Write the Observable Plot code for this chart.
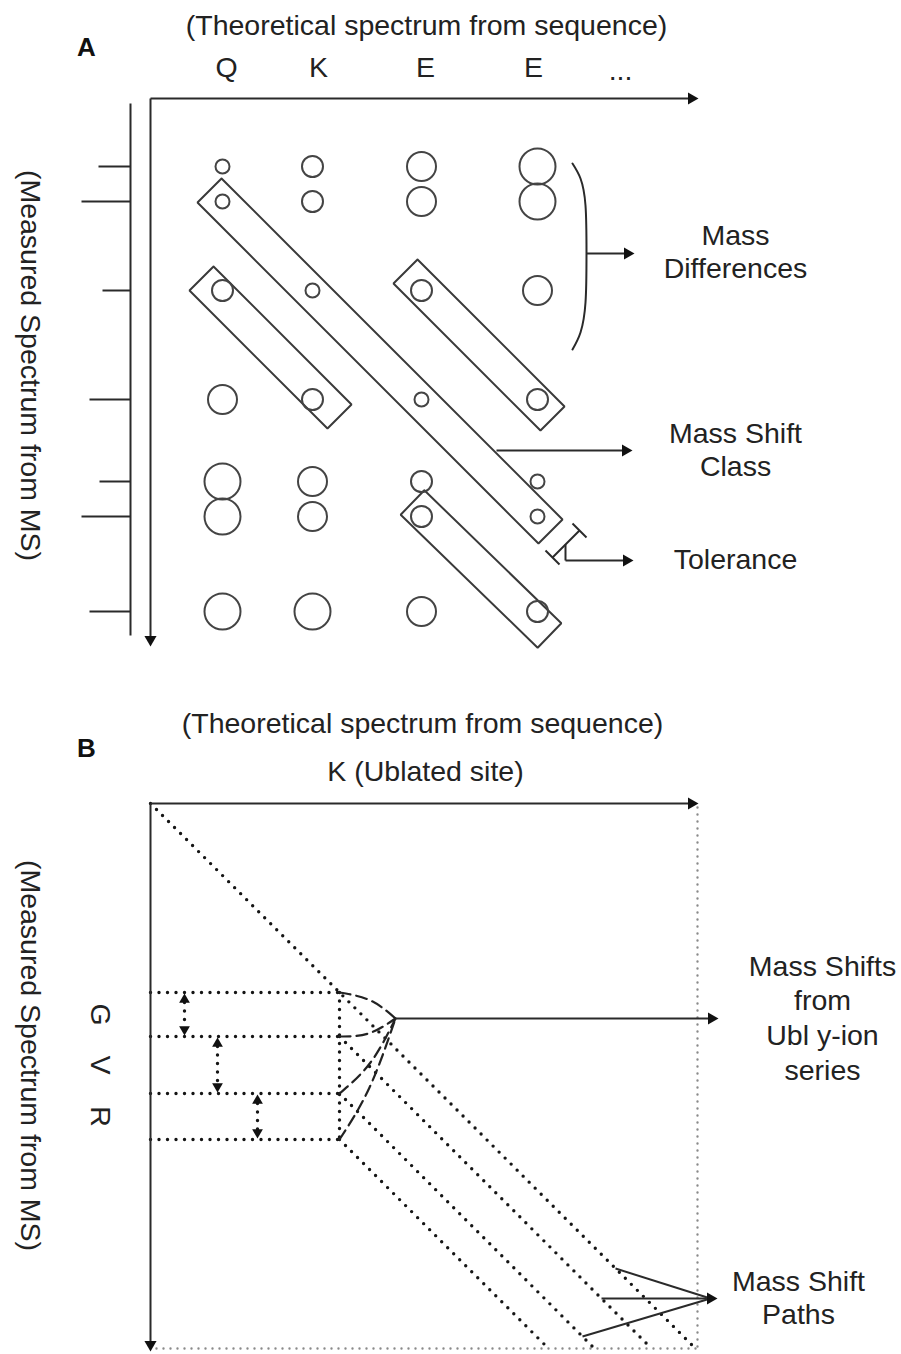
<!DOCTYPE html>
<html><head><meta charset="utf-8">
<script src="https://cdn.jsdelivr.net/npm/d3@7"></script>
<script src="https://cdn.jsdelivr.net/npm/@observablehq/plot@0.6"></script>
<style>body{margin:0;background:#fff} svg{display:block}</style>
</head><body><div id="chart"></div>
<script>
const W = 901, H = 1354;
const INK = "#2a2a2a";
const FONT = "'Liberation Sans', Arial, Helvetica, sans-serif";
const FS = 28.5;

// ---------- Panel A data ----------
const residuesA = ["Q", "K", "E", "E", "..."];
const residueLabelXA = [226, 318, 425, 533, 620];
const theoA = [222, 312, 421, 537];                    // theoretical peaks (x)
const measA = [166, 201, 290, 399, 481, 516, 611];     // measured peaks (y)
const intensityA = [32, 49, 28, 41, 31, 49, 41];       // measured peak heights
const sizeA = [
  [7, 10.5, 14.5, 18],
  [7, 10.5, 14.5, 18],
  [10.5, 7, 10.5, 14.5],
  [14.5, 10.5, 7, 10.5],
  [18, 14.5, 10.5, 7],
  [18, 14.5, 10.5, 7],
  [18, 18, 14.5, 10.5]
];
const classFromX = [209, 201, 405, 412];
const classFromY = [190, 278, 271, 502];
const classToX = [550, 339, 552, 549];
const classToY = [531, 416, 418, 635];
const classHalfWidth = 17;
const bracketX = [572, 580, 585, 586, 585, 580, 572];
const bracketY = [163, 178, 205, 253, 302, 332, 349];

// ---------- Panel B data ----------
const residuesB = ["G", "V", "R"];
const measB = [992, 1036, 1093, 1139];                 // measured peaks (y)
const siteB = 339;                                     // ublated K site (x)
const originB = [150, 803];
const frameB = [697, 1348];
const arcMidX = [370, 368, 370, 369];
const arcMidY = [1000, 1033, 1062, 1087];
const hubB = [395, 1018];
const doubleArrowX = [184, 217, 257];
const pathStartY = [1268, 1298, 1336];
const pathDiag = [0, 1, 2];
const pathEnd = [710, 1298];

// ---------- derived geometry ----------
const solid = [], heads = [], dotted = [], dottedLight = [], boxes = [], arcs = [], bracket = [];
const seg = (arr, x1, y1, x2, y2) => arr.push({x1, y1, x2, y2});
function head(x, y, dir, r = 4.5) {
  const off = 2 * Math.sqrt((r * r * Math.PI) / (Math.sqrt(3) * 3));
  const a = dir * Math.PI / 180;
  heads.push({x: x - off * Math.cos(a), y: y - off * Math.sin(a), rot: dir + 90, r});
}

// Panel A
seg(solid, 130, 103, 130, 635);
measA.forEach((m, i) => seg(solid, 130 - intensityA[i], m, 130, m));
seg(solid, 150, 98, 692, 98); head(698, 98, 0);
seg(solid, 150, 98, 150, 640); head(150, 646, 90);
const circles = [];
measA.forEach((m, i) => theoA.forEach((t, j) => circles.push({x: t, y: m, r: sizeA[i][j]})));
classFromX.forEach((_, k) => {
  const x1 = classFromX[k], y1 = classFromY[k], x2 = classToX[k], y2 = classToY[k];
  const L = Math.hypot(x2 - x1, y2 - y1), nx = -(y2 - y1) / L * classHalfWidth, ny = (x2 - x1) / L * classHalfWidth;
  [[x1 - nx, y1 - ny], [x2 - nx, y2 - ny], [x2 + nx, y2 + ny], [x1 + nx, y1 + ny], [x1 - nx, y1 - ny]]
    .forEach(([x, y]) => boxes.push({x, y, k}));
});
bracketX.forEach((x, i) => bracket.push({x, y: bracketY[i]}));
seg(solid, 586, 253, 628, 253); head(634, 253, 0);
seg(solid, 496, 450, 626, 450); head(632, 450, 0);
// tolerance marker
seg(solid, 572, 523, 586, 537);
seg(solid, 545, 550, 559, 564);
seg(solid, 579, 530, 552, 557);
seg(solid, 565, 544, 565, 560);
seg(solid, 565, 560, 627, 560); head(633, 560, 0);

// Panel B
seg(solid, originB[0], originB[1], 692, originB[1]); head(698, originB[1], 0);
seg(solid, originB[0], originB[1], originB[0], 1345); head(originB[0], 1351, 90);
seg(dottedLight, frameB[0], originB[1] + 4, frameB[0], frameB[1]);
seg(dottedLight, originB[0] + 6, frameB[1], frameB[0], frameB[1]);
const diagStarts = [originB, [siteB, measB[1]], [siteB, measB[2]], [siteB, measB[3]]];
diagStarts.forEach(([x0, y0]) => seg(dotted, x0, y0, x0 + (frameB[1] - y0), frameB[1]));
measB.forEach(m => seg(dotted, originB[0], m, siteB, m));
seg(dotted, siteB, measB[0], siteB, measB[3]);
doubleArrowX.forEach((x, i) => {
  seg(dotted, x, measB[i] + 10, x, measB[i + 1] - 10);
  head(x, measB[i] + 1, -90, 4);
  head(x, measB[i + 1] - 1, 90, 4);
});
measB.forEach((m, i) => {
  arcs.push({x: siteB, y: m, k: i}, {x: arcMidX[i], y: arcMidY[i], k: i}, {x: hubB[0], y: hubB[1], k: i});
});
seg(solid, hubB[0], hubB[1], 712, hubB[1]); head(718, hubB[1], 0);
pathStartY.forEach((y, i) => {
  const [x0, y0] = diagStarts[pathDiag[i]];
  seg(solid, x0 + (y - y0), y, pathEnd[0], pathEnd[1]);
});
head(717, pathEnd[1], 0, 4.5);

// ---------- text ----------
const texts = [
  {t: "(Theoretical spectrum from sequence)", x: 426, y: 25},
  ...residuesA.map((r, i) => ({t: r, x: residueLabelXA[i], y: r === "..." ? 70 : 67})),
  {t: "Mass", x: 735, y: 235}, {t: "Differences", x: 735, y: 268},
  {t: "Mass Shift", x: 735, y: 433}, {t: "Class", x: 735, y: 466},
  {t: "Tolerance", x: 735, y: 559},
  {t: "(Theoretical spectrum from sequence)", x: 422, y: 723},
  {t: "K (Ublated site)", x: 425, y: 771},
  {t: "Mass Shifts", x: 822, y: 966}, {t: "from", x: 822, y: 1000},
  {t: "Ubl y-ion", x: 822, y: 1035}, {t: "series", x: 822, y: 1070},
  {t: "Mass Shift", x: 798, y: 1281}, {t: "Paths", x: 798, y: 1314}
];
const rotTexts = [
  {t: "(Measured Spectrum from MS)", x: 30, y: 365},
  {t: "(Measured Spectrum from MS)", x: 30, y: 1055},
  ...residuesB.map((r, i) => ({t: r, x: 100, y: (measB[i] + measB[i + 1]) / 2}))
];
const panelLabels = [{t: "A", x: 86, y: 47}, {t: "B", x: 86, y: 748}];

const chart = Plot.plot({
  width: W, height: H, margin: 0,
  x: {type: "linear", domain: [0, W], range: [0, W], axis: null},
  y: {type: "linear", domain: [0, H], range: [0, H], axis: null},
  r: {type: "linear", domain: [0, 20], range: [0, 20]},
  style: {background: "#fff", fontFamily: FONT},
  marks: [
    Plot.link(dottedLight, {x1: "x1", y1: "y1", x2: "x2", y2: "y2", stroke: "#8a8a8a", strokeWidth: 2.4, strokeDasharray: "0,7", strokeLinecap: "round"}),
    Plot.link(dotted, {x1: "x1", y1: "y1", x2: "x2", y2: "y2", stroke: "#151515", strokeWidth: 3.4, strokeDasharray: "0,8.5", strokeLinecap: "round"}),
    Plot.line(arcs, {x: "x", y: "y", z: "k", curve: "natural", stroke: "#222", strokeWidth: 2.2, strokeDasharray: "11,6"}),
    Plot.line(boxes, {x: "x", y: "y", z: "k", stroke: "#3a3a3a", strokeWidth: 2, strokeLinejoin: "miter"}),
    Plot.line(bracket, {x: "x", y: "y", curve: "natural", stroke: INK, strokeWidth: 2}),
    Plot.dot(circles, {x: "x", y: "y", r: "r", stroke: "#444", strokeWidth: 2, fill: "none"}),
    Plot.link(solid, {x1: "x1", y1: "y1", x2: "x2", y2: "y2", stroke: INK, strokeWidth: 2}),
    Plot.dot(heads, {x: "x", y: "y", symbol: "triangle", rotate: "rot", r: "r", fill: "#111", stroke: null}),
    Plot.text(texts, {x: "x", y: "y", text: "t", fontSize: FS, fill: "#222"}),
    Plot.text(rotTexts, {x: "x", y: "y", text: "t", fontSize: FS, rotate: 90, fill: "#222"}),
    Plot.text(panelLabels, {x: "x", y: "y", text: "t", fontSize: 26, fontWeight: "bold", fill: "#111"})
  ]
});
document.getElementById("chart").appendChild(chart);
</script></body></html>
